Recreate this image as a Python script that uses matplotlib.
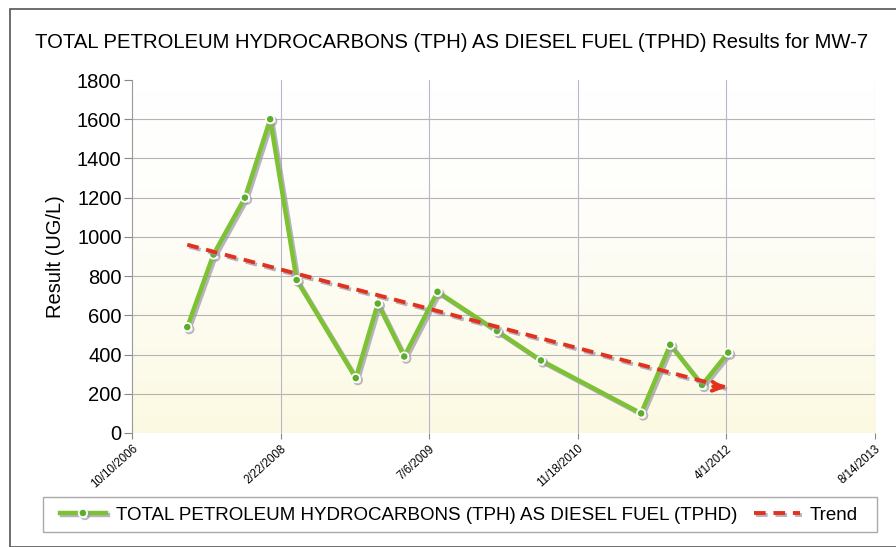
import matplotlib.pyplot as plt
import matplotlib.patheffects as pe
from matplotlib.colors import LinearSegmentedColormap
from matplotlib.patches import Rectangle
import numpy as np
import pandas as pd

plt.rcParams['font.family'] = ['Liberation Sans', 'DejaVu Sans']

# sample data
sample_dates = ["4/14/2007", "7/11/2007", "10/25/2007", "1/18/2008", "4/16/2008",
                "11/1/2008", "1/14/2009", "4/13/2009", "8/3/2009", "2/19/2010",
                "7/17/2010", "6/19/2011", "9/25/2011", "1/10/2012", "4/7/2012"]
results = [540, 910, 1200, 1600, 780, 280, 660, 390, 720, 520, 370, 100, 450, 245, 410]

# trend line end points
trend_dates = ["4/14/2007", "4/7/2012"]
trend_values = [960, 230]

x_ticks = ["10/10/2006", "2/22/2008", "7/6/2009", "11/18/2010", "4/1/2012", "8/14/2013"]
y_ticks = [0, 200, 400, 600, 800, 1000, 1200, 1400, 1600, 1800]

title = "TOTAL PETROLEUM HYDROCARBONS (TPH) AS DIESEL FUEL (TPHD) Results for MW-7"
series_name = "TOTAL PETROLEUM HYDROCARBONS (TPH) AS DIESEL FUEL (TPHD)"

d = pd.to_datetime(sample_dates, format="%m/%d/%Y")
td = pd.to_datetime(trend_dates, format="%m/%d/%Y")
xt = pd.to_datetime(x_ticks, format="%m/%d/%Y")

fig = plt.figure(figsize=(8.96, 5.47), dpi=100)
ax = fig.add_axes([132/896, 1 - 433/547, (875 - 132)/896, (433 - 80)/547])

# faint yellow wash towards the bottom of the plot area
grad = (np.linspace(0, 1, 100) ** 1.5).reshape(-1, 1)
wash = LinearSegmentedColormap.from_list('wash', ['#ffffff', '#fcf9e2'])
ax.imshow(grad, extent=[0, 1, 0, 1], transform=ax.transAxes, aspect='auto',
          cmap=wash, origin='upper', zorder=0)

ax.set_xlim(xt[0], xt[-1])
ax.set_ylim(0, 1800)
ax.set_xticks(xt)
ax.set_xticklabels(x_ticks, rotation=42, ha='right', rotation_mode='anchor', fontsize=8.3)
ax.set_yticks(y_ticks)
ax.tick_params(axis='y', labelsize=14.5, length=6, color='#888888', pad=1.5)
ax.tick_params(axis='x', length=4, color='#888888', pad=3)

for y in y_ticks[1:-1]:
    ax.axhline(y, color='#b4b4b4', lw=0.8, zorder=1)
for x in xt[1:]:
    ax.axvline(x, color='#bab4cc', lw=0.8, zorder=1)

for s in ['top', 'right', 'bottom']:
    ax.spines[s].set_visible(False)
ax.spines['left'].set_color('#999999')

shadow = [pe.SimpleLineShadow(offset=(1.5, -1.5), shadow_color='#9a94a8', alpha=0.7), pe.Normal()]

ax.plot(d, results, color='#7cc234', lw=3.2, marker='o', ms=6, mfc='#5cae2a',
        mec='white', mew=1.3, zorder=3, path_effects=shadow, label=series_name)
ax.plot(td, trend_values, color='#e0321e', lw=2.8, ls=(0, (3, 2)), zorder=4,
        path_effects=shadow, label='Trend')
ax.annotate('', xy=(td[1], trend_values[1]),
            xytext=(td[1] - pd.Timedelta(days=60), trend_values[1] + 9),
            arrowprops=dict(arrowstyle='->', color='#e0321e', lw=2.8,
                            mutation_scale=16), zorder=4)

ax.set_ylabel("Result (UG/L)", fontsize=14.5)
ax.yaxis.set_label_coords(-0.09, 0.5)

fig.text(452/896, 1 - 42/547, title, ha='center', va='center', fontsize=14.6)

# legend without its own frame; the box is drawn separately
leg = fig.legend(loc='center', bbox_to_anchor=(459/896, 1 - 515/547), ncol=2,
                 fontsize=13.5, frameon=False, handlelength=2.45,
                 handletextpad=0.53, columnspacing=0.9, borderpad=0.2)
fig.patches.append(Rectangle((43/896, 1 - 532/547), (877 - 43)/896, 35/547,
                             transform=fig.transFigure, fill=False,
                             edgecolor='#aaaaaa', lw=1.0))

# outer frame of the chart
fig.patches.append(Rectangle((10/896, 0), 0.995, 1 - 9/547, transform=fig.transFigure,
                             fill=False, edgecolor='#555555', lw=1.2))

fig.savefig("out.png", dpi=100)
